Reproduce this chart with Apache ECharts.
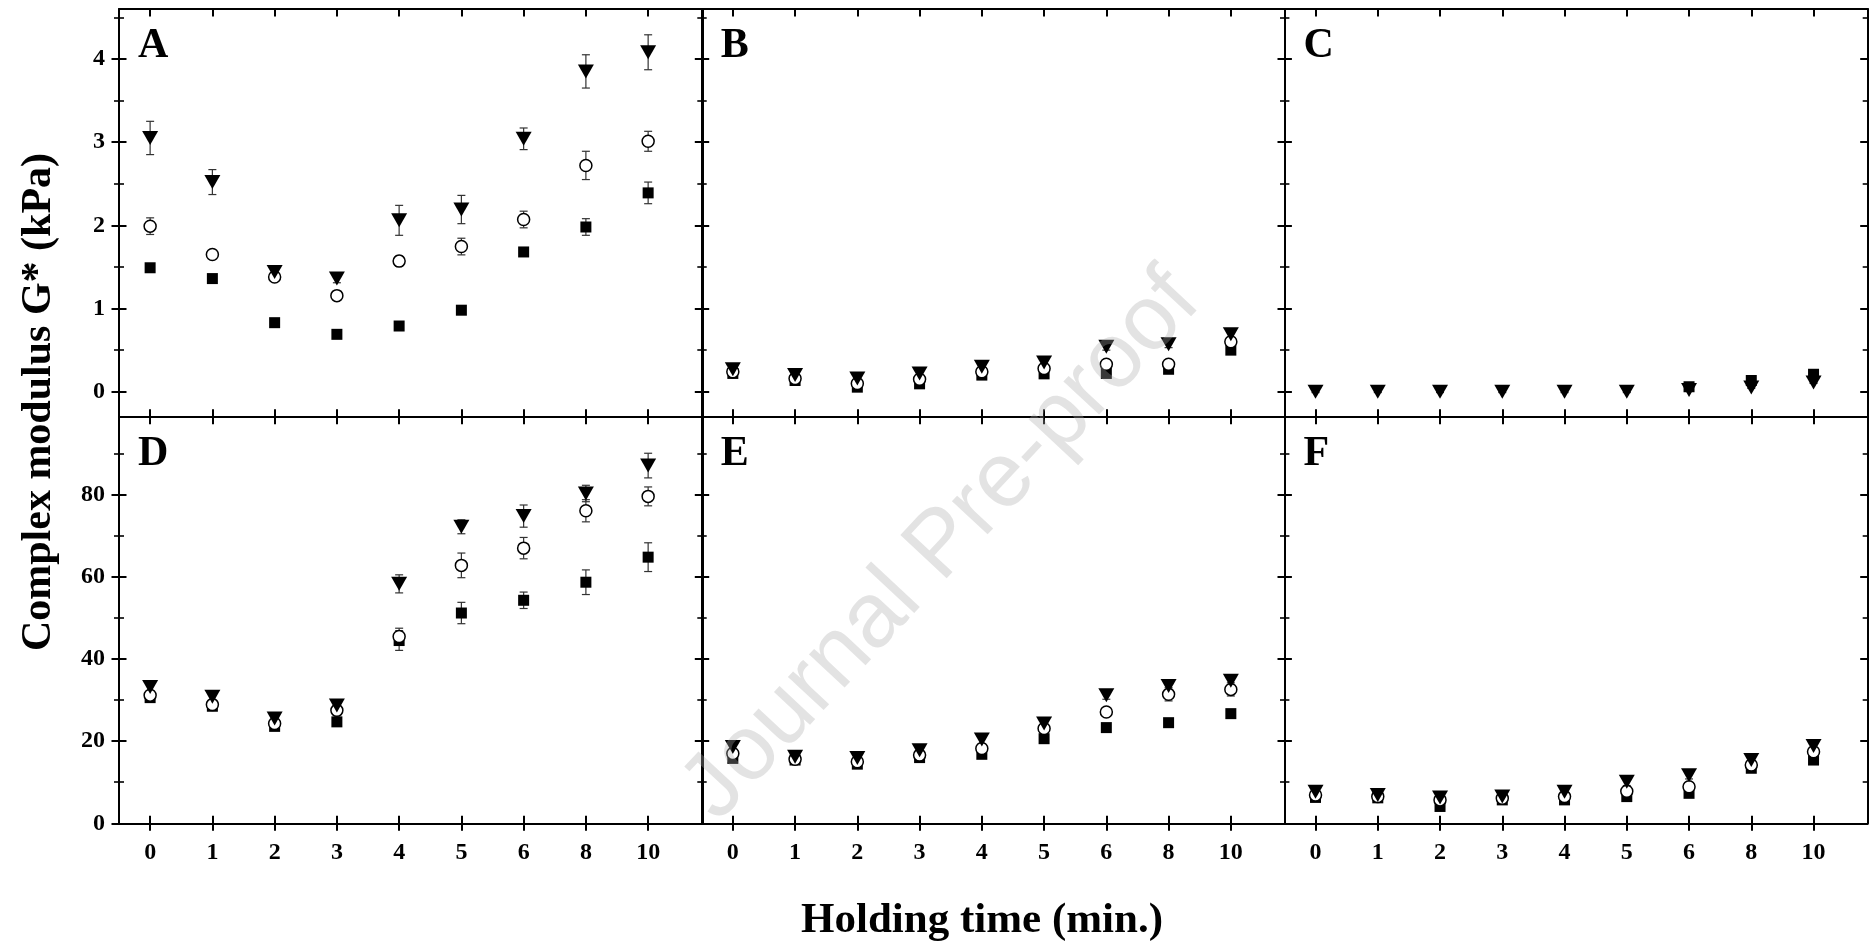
<!DOCTYPE html>
<html>
<head>
<meta charset="utf-8">
<script src="https://cdn.jsdelivr.net/npm/echarts@6/dist/echarts.min.js"></script>
<style>
html,body{margin:0;padding:0;background:#fff;}
#chart{width:1870px;height:949px;}
</style>
</head>
<body>
<div id="chart"></div>
<script>
// ---------- tick labels ----------
const timeLabels = ['0', '1', '2', '3', '4', '5', '6', '8', '10'];
const panelNames = ['A', 'B', 'C', 'D', 'E', 'F'];
const yMajorTop = [0, 1, 2, 3, 4];
const yMinorTop = [0.5, 1.5, 2.5, 3.5, 4.5];
const yMajorBottom = [0, 20, 40, 60, 80];
const yMinorBottom = [10, 30, 50, 70, 90];

// ---------- data (kPa) ----------
const A_square   = [1.49, 1.36, 0.83, 0.69, 0.79, 0.98, 1.68, 1.98, 2.39];
const A_circle   = [1.99, 1.65, 1.38, 1.155, 1.57, 1.745, 2.07, 2.72, 3.01];
const A_triangle = [3.05, 2.52, 1.44, 1.36, 2.06, 2.19, 3.04, 3.85, 4.08];
const A_square_err   = [0.03, 0.03, 0.03, 0.03, 0.03, 0.03, 0.05, 0.1, 0.13];
const A_circle_err   = [0.1, 0.05, 0.05, 0.05, 0.06, 0.1, 0.1, 0.17, 0.12];
const A_triangle_err = [0.2, 0.15, 0.05, 0.05, 0.18, 0.17, 0.13, 0.2, 0.21];

const B_square   = [0.22, 0.135, 0.055, 0.095, 0.2, 0.215, 0.22, 0.27, 0.5];
const B_circle   = [0.24, 0.16, 0.1, 0.15, 0.24, 0.28, 0.33, 0.33, 0.6];
const B_triangle = [0.27, 0.2, 0.16, 0.22, 0.3, 0.35, 0.54, 0.57, 0.69];
const B_square_err   = [0.03, 0.03, 0.03, 0.03, 0.03, 0.03, 0.03, 0.03, 0.04];
const B_circle_err   = [0.03, 0.03, 0.03, 0.03, 0.03, 0.03, 0.04, 0.04, 0.05];
const B_triangle_err = [0.04, 0.04, 0.04, 0.04, 0.04, 0.04, 0.04, 0.04, 0.05];

const C_square   = [null, null, null, null, null, null, 0.06, 0.135, 0.21];
const C_circle   = [null, null, null, null, null, null, null, null, null];
const C_triangle = [0.0, 0.0, 0.0, 0.0, 0.0, 0.0, 0.02, 0.05, 0.11];
const C_square_err   = [0, 0, 0, 0, 0, 0, 0.01, 0.01, 0.01];
const C_circle_err   = [0, 0, 0, 0, 0, 0, 0, 0, 0];
const C_triangle_err = [0.01, 0.01, 0.01, 0.01, 0.01, 0.01, 0.01, 0.01, 0.01];

const D_square   = [30.6, 28.5, 23.6, 24.7, 44.5, 51.2, 54.3, 58.7, 64.8];
const D_circle   = [31.2, 28.9, 24.3, 27.5, 45.5, 62.8, 67.0, 76.1, 79.6];
const D_triangle = [33.2, 30.8, 25.5, 28.7, 58.3, 72.2, 74.8, 80.3, 87.1];
const D_square_err   = [1, 1, 1, 1, 2.4, 2.6, 2, 3, 3.5];
const D_circle_err   = [1, 1, 1, 1, 2, 3, 2.6, 2.7, 2.3];
const D_triangle_err = [1, 1, 0.8, 1, 2.2, 1.7, 2.7, 2, 3];

const E_square   = [15.8, 15.4, 14.4, 16.0, 16.8, 20.6, 23.3, 24.5, 26.7];
const E_circle   = [17.0, 15.6, 15.0, 16.6, 18.2, 23.1, 27.1, 31.4, 32.6];
const E_triangle = [18.6, 16.2, 15.9, 17.8, 20.4, 24.3, 31.2, 33.4, 34.7];
const E_square_err   = [0.6, 0.6, 0.6, 0.6, 0.6, 0.6, 0.6, 0.6, 0.6];
const E_circle_err   = [1, 0.8, 0.8, 0.8, 0.8, 1, 1, 1.6, 1.6];
const E_triangle_err = [1, 1, 1, 1, 1, 1, 1, 1.2, 1.2];

const F_square   = [6.3, 6.2, 4.1, 5.7, 5.7, 6.5, 7.3, 13.4, 15.4];
const F_circle   = [6.9, 6.5, 5.7, 6.1, 6.5, 7.8, 8.9, 14.2, 17.4];
const F_triangle = [7.7, 6.9, 6.3, 6.5, 7.7, 10.1, 11.7, 15.4, 18.8];
const F_square_err   = [0.5, 0.5, 0.5, 0.5, 0.5, 0.5, 0.5, 0.5, 0.5];
const F_circle_err   = [0.7, 0.7, 0.7, 0.7, 0.7, 0.8, 0.8, 0.8, 0.9];
const F_triangle_err = [0.8, 0.8, 0.8, 0.8, 0.8, 0.9, 0.9, 0.9, 1];

const panels = [
  {sq: A_square, ci: A_circle, tr: A_triangle, sqe: A_square_err, cie: A_circle_err, tre: A_triangle_err},
  {sq: B_square, ci: B_circle, tr: B_triangle, sqe: B_square_err, cie: B_circle_err, tre: B_triangle_err},
  {sq: C_square, ci: C_circle, tr: C_triangle, sqe: C_square_err, cie: C_circle_err, tre: C_triangle_err},
  {sq: D_square, ci: D_circle, tr: D_triangle, sqe: D_square_err, cie: D_circle_err, tre: D_triangle_err},
  {sq: E_square, ci: E_circle, tr: E_triangle, sqe: E_square_err, cie: E_circle_err, tre: E_triangle_err},
  {sq: F_square, ci: F_circle, tr: F_triangle, sqe: F_square_err, cie: F_circle_err, tre: F_triangle_err}
];

// ---------- layout ----------
const FONT = '"Liberation Serif", "Times New Roman", serif';
const colLeft = [119, 701.7, 1284.4];
const colW = 583.3;
const rowTop = [9, 416.7];
const rowH = [407.7, 406.6];
const yRange = [{min: -0.3, max: 4.6, major: yMajorTop, minor: yMinorTop},
                {min: 0, max: 99, major: yMajorBottom, minor: yMinorBottom}];
const xIdx = timeLabels.map((_, i) => i);

const grid = [], xAxis = [], yAxis = [], series = [], graphic = [];
const lineS = {color: '#000', width: 2};

panels.forEach((p, pi) => {
  const r = Math.floor(pi / 3), c = pi % 3;
  grid.push({left: colLeft[c], top: rowTop[r], width: colW, height: rowH[r],
             containLabel: false, outerBoundsMode: 'none'});
  const xBase = {type: 'value', gridIndex: pi, min: -0.5, max: 8.87,
                 splitLine: {show: false}, axisLabel: {show: false}};
  const mainX = xAxis.length;
  xAxis.push(Object.assign({}, xBase, {position: 'bottom',
    axisLine: {show: true, onZero: false, lineStyle: lineS},
    axisTick: {show: true, inside: true, length: 7.5, customValues: xIdx, lineStyle: lineS}}));
  xAxis.push(Object.assign({}, xBase, {position: 'top',
    axisLine: {show: true, onZero: false, lineStyle: lineS},
    axisTick: {show: true, inside: true, length: 7.5, customValues: xIdx, lineStyle: lineS}}));
  if (r === 1) {
    xAxis.push(Object.assign({}, xBase, {position: 'bottom',
      axisLine: {show: false, onZero: false},
      axisTick: {show: true, inside: false, length: 7.5, customValues: xIdx, lineStyle: lineS},
      axisLabel: {show: true, customValues: xIdx, margin: 17,
        formatter: v => timeLabels[Math.round(v)],
        fontFamily: FONT, fontWeight: 'bold', fontSize: 24, color: '#000'}}));
  }
  const yr = yRange[r];
  const yBase = {type: 'value', gridIndex: pi, min: yr.min, max: yr.max,
                 splitLine: {show: false}, axisLabel: {show: false}};
  const mainY = yAxis.length;
  ['left', 'right'].forEach(pos => {
    yAxis.push(Object.assign({}, yBase, {position: pos,
      axisLine: {show: true, onZero: false, lineStyle: lineS},
      axisTick: {show: true, inside: true, length: 7.5, customValues: yr.major, lineStyle: lineS}}));
    yAxis.push(Object.assign({}, yBase, {position: pos,
      axisLine: {show: false, onZero: false},
      axisTick: {show: true, inside: true, length: 5, customValues: yr.minor, lineStyle: {color: '#000', width: 1.6}}}));
  });
  if (c === 0) {
    yAxis.push(Object.assign({}, yBase, {position: 'left',
      axisLine: {show: false, onZero: false},
      axisTick: {show: true, inside: false, length: 7.5, customValues: yr.major, lineStyle: lineS},
      axisLabel: {show: true, customValues: yr.major, margin: 14,
        fontFamily: FONT, fontWeight: 'bold', fontSize: 24, color: '#000'}}));
    yAxis.push(Object.assign({}, yBase, {position: 'left',
      axisLine: {show: false, onZero: false},
      axisTick: {show: true, inside: false, length: 5, customValues: yr.minor, lineStyle: {color: '#000', width: 1.6}}}));
  }

  const errSeries = (vals, errs) => ({
    type: 'custom', xAxisIndex: mainX, yAxisIndex: mainY, silent: true, z: 1,
    data: vals.map((v, i) => v == null ? null : [i, v, errs[i]]).filter(d => d),
    renderItem: (params, api) => {
      const x = api.value(0), y = api.value(1), e = api.value(2);
      const t = api.coord([x, y + e]), b = api.coord([x, y - e]);
      const w = 4;
      const st = {stroke: '#333', lineWidth: 1.2};
      return {type: 'group', children: [
        {type: 'line', shape: {x1: t[0], y1: t[1], x2: b[0], y2: b[1]}, style: st},
        {type: 'line', shape: {x1: t[0] - w, y1: t[1], x2: t[0] + w, y2: t[1]}, style: st},
        {type: 'line', shape: {x1: b[0] - w, y1: b[1], x2: b[0] + w, y2: b[1]}, style: st}
      ]};
    }
  });
  series.push(errSeries(p.sq, p.sqe), errSeries(p.ci, p.cie), errSeries(p.tr, p.tre));
  const pts = vals => vals.map((v, i) => [i, v]);
  series.push({type: 'scatter', xAxisIndex: mainX, yAxisIndex: mainY, z: 3,
    data: pts(p.sq), symbol: 'rect', symbolSize: 11, itemStyle: {color: '#000', opacity: 1}});
  series.push({type: 'scatter', xAxisIndex: mainX, yAxisIndex: mainY, z: 4,
    data: pts(p.ci), symbol: 'circle', symbolSize: 12,
    itemStyle: {color: '#fff', borderColor: '#000', borderWidth: 1.5, opacity: 1}});
  series.push({type: 'scatter', xAxisIndex: mainX, yAxisIndex: mainY, z: 5,
    data: pts(p.tr), symbol: 'triangle', symbolRotate: 180, symbolSize: [16, 14],
    itemStyle: {color: '#000', opacity: 1}});

  graphic.push({type: 'text', x: colLeft[c] + 19, y: rowTop[r] + 37, z: 50,
    style: {text: panelNames[pi], font: 'bold 42px ' + FONT, fill: '#000',
            align: 'left', verticalAlign: 'middle', textAlign: 'left', textVerticalAlign: 'middle'}});
});

graphic.push({type: 'text', x: 982, y: 921, z: 50,
  style: {text: 'Holding time (min.)', font: 'bold 43px ' + FONT, fill: '#000',
          align: 'center', verticalAlign: 'middle', textAlign: 'center', textVerticalAlign: 'middle'}});
graphic.push({type: 'text', x: 39, y: 402, rotation: Math.PI / 2, z: 50,
  style: {text: 'Complex modulus G* (kPa)', font: 'bold 42px ' + FONT, fill: '#000',
          align: 'center', verticalAlign: 'middle', textAlign: 'center', textVerticalAlign: 'middle'}});
graphic.push({type: 'text', x: 942, y: 546, rotation: 0.82, z: 100, silent: true,
  style: {text: 'Journal Pre-proof', font: 'normal 92px "Liberation Sans", Arial, sans-serif',
          fill: 'rgba(170,170,170,0.33)',
          align: 'center', verticalAlign: 'middle', textAlign: 'center', textVerticalAlign: 'middle'}});

const chart = echarts.init(document.getElementById('chart'), null, {renderer: 'canvas'});
chart.setOption({
  backgroundColor: '#fff',
  animation: false,
  grid, xAxis, yAxis, series, graphic
});
</script>
</body>
</html>
